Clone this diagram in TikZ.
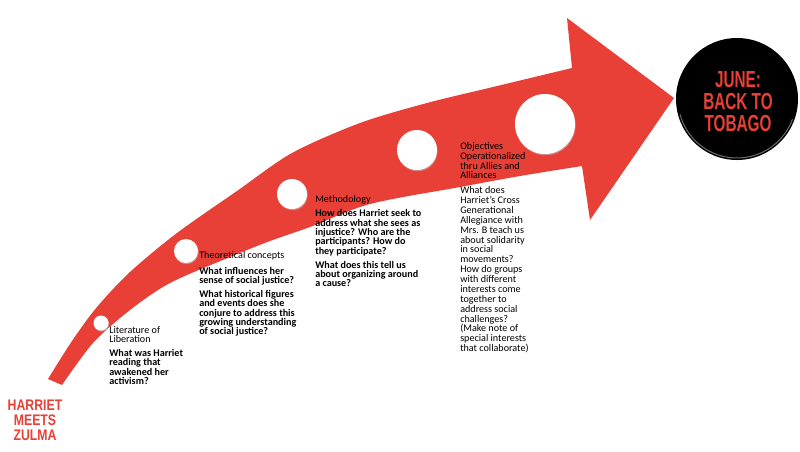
\documentclass[tikz,border=0pt]{standalone}
\usepackage{fontspec}
\setmainfont{Carlito}
\newfontfamily\postfont[FakeStretch=0.66]{Liberation Sans}
\newfontfamily\tagfont[FakeStretch=0.8]{Liberation Sans}
\definecolor{arrowred}{RGB}{232,64,54}
\tikzset{
  note/.style={anchor=north west, inner sep=0pt, align=left, font=\fontsize{7.6}{7}\selectfont},
  widenote/.style={note, font=\fontsize{7.6}{7.4}\selectfont},
  hole/.style={fill=white},
  holeshade/.style={fill=black!25, opacity=0.6},
  badge/.style={inner sep=0pt, align=center, text=arrowred}
}

\begin{document}
\begin{tikzpicture}[x=0.75pt,y=-0.75pt]
  \useasboundingbox (0,0) rectangle (800,451);
  \fill[arrowred] plot[smooth,tension=.5] coordinates {(48,379) (72,341) (97,307) (130,272) (177,233) (237,191) (292,153) (360,123) (427,103) (493,87) (572,68)}
    -- (567,18) -- (674,98) -- (590,220)
    -- plot[smooth,tension=.5] coordinates {(582,166) (520,176) (460,187) (370,204) (310,227) (270,241) (230,257) (170,283) (130,310) (93,343) (62,385)} -- cycle;

  \foreach \cx/\cy/\r in {101/323/7.5, 186/251/12, 292/194/15, 417/150/20, 545/124/30} {
    \fill[holeshade] (\cx+0.6,\cy+1.2) circle [radius=\r];
    \fill[hole] (\cx,\cy) circle [radius=\r];
  }

  \fill (737,99) circle [radius=61];
  \draw[black!60, line width=0.8pt] (737,99) ++(20:59) arc [start angle=20, end angle=165, radius=59];
  \node[badge, font=\postfont\bfseries\fontsize{17.4}{16.5}\selectfont] (june) at (738,102) {JUNE:\\BACK TO\\TOBAGO};

  \node[badge, font=\tagfont\bfseries\fontsize{11.5}{11.25}\selectfont] (start) at (35,420.5) {HARRIET\\MEETS\\ZULMA};

  \node[note] (literature) at (109,326) {Literature of\\Liberation\\[3.5pt]
    \bfseries What was Harriet\\ \bfseries reading that\\ \bfseries awakened her\\ \bfseries activism?};
  \node[note] (theory) at (199,251) {Theoretical concepts\\[5pt]
    \bfseries What influences her\\ \bfseries sense of social justice?\\[3.5pt]
    \bfseries What historical figures\\ \bfseries and events does she\\ \bfseries conjure to address this\\ \bfseries growing understanding\\ \bfseries of social justice?};
  \node[note] (method) at (315,195) {Methodology\\[4pt]
    \bfseries How does Harriet seek to\\ \bfseries address what she sees as\\ \bfseries injustice? Who are the\\ \bfseries participants? How do\\ \bfseries they participate?\\[3.5pt]
    \bfseries What does this tell us\\ \bfseries about organizing around\\ \bfseries a cause?};
  \node[widenote] (objectives) at (460,142) {Objectives\\Operationalized\\thru Allies and\\Alliances\\[3.75pt]
    What does\\Harriet's Cross\\Generational\\Allegiance with\\Mrs. B teach us\\about solidarity\\in social\\movements?\\How do groups\\with different\\interests come\\together to\\address social\\challenges?\\(Make note of\\special interests\\that collaborate)};
\end{tikzpicture}
\end{document}
